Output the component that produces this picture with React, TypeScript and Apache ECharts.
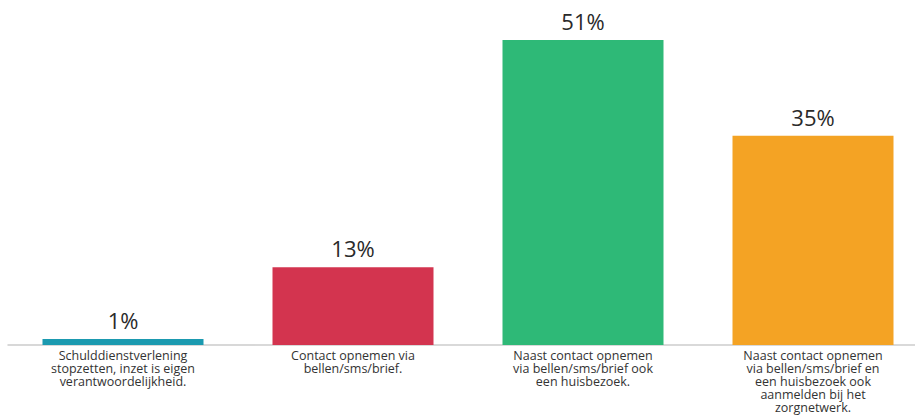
import React, { useEffect, useRef } from "react";
import * as echarts from "echarts";

const categories = [
  "Schulddienstverlening\nstopzetten, inzet is eigen\nverantwoordelijkheid.",
  "Contact opnemen via\nbellen/sms/brief.",
  "Naast contact opnemen\nvia bellen/sms/brief ook\neen huisbezoek.",
  "Naast contact opnemen\nvia bellen/sms/brief en\neen huisbezoek ook\naanmelden bij het\nzorgnetwerk.",
];
const values = [1, 13, 51, 35];
const colors = ["#1b9ab0", "#d3344f", "#2eb977", "#f4a324"];

export default function App() {
  const ref = useRef<HTMLDivElement>(null);
  useEffect(() => {
    document.body.style.margin = "0";
    const chart = echarts.init(ref.current!, null, { renderer: "svg" });
    chart.setOption({
      animation: false,
      grid: {
        left: 8,
        width: 920,
        top: 16,
        height: 329,
        containLabel: false,
        outerBoundsMode: "none",
      },
      xAxis: {
        type: "category",
        data: categories,
        axisLine: { lineStyle: { color: "#cccccc", width: 1.5 } },
        axisTick: { show: false },
        axisLabel: {
          color: "#333333",
          fontFamily: "Open Sans",
          fontSize: 12.5,
          lineHeight: 13,
          margin: 4,
          interval: 0,
        },
      },
      yAxis: {
        type: "value",
        min: 0,
        max: 55,
        show: false,
        splitLine: { show: false },
      },
      series: [
        {
          type: "bar",
          barWidth: "70%",
          data: values.map((v, i) => ({ value: v, itemStyle: { color: colors[i] } })),
          label: {
            show: true,
            position: "top",
            distance: 8,
            formatter: "{c}%",
            color: "#2a2a2a",
            fontFamily: "Open Sans",
            fontSize: 22,
          },
        },
      ],
    });
    return () => chart.dispose();
  }, []);
  return <div ref={ref} style={{ width: 915, height: 415 }} />;
}
